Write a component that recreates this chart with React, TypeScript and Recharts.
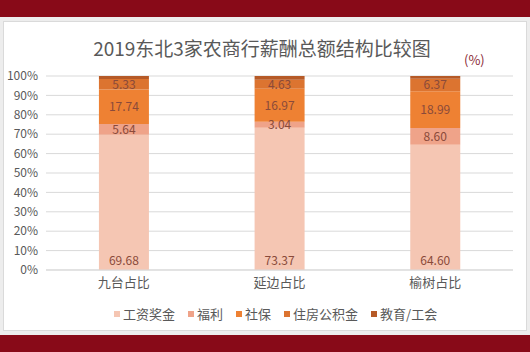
import React from "react";
import {
  Bar,
  BarChart,
  CartesianGrid,
  LabelList,
  XAxis,
  YAxis,
} from "recharts";

const categories = ["九台占比", "延边占比", "榆树占比"];
const salary = [69.68, 73.37, 64.6];
const welfare = [5.64, 3.04, 8.6];
const social = [17.74, 16.97, 18.99];
const housing = [5.33, 4.63, 6.37];
const education = [1.61, 1.99, 1.44];
const yTicks = [0, 10, 20, 30, 40, 50, 60, 70, 80, 90, 100];

const series = [
  { key: "salary", name: "工资奖金", color: "#F5C6B3", values: salary, pos: "insideBottom" },
  { key: "welfare", name: "福利", color: "#EFA389", values: welfare, pos: "center" },
  { key: "social", name: "社保", color: "#EE8133", values: social, pos: "center" },
  { key: "housing", name: "住房公积金", color: "#DC7430", values: housing, pos: "center" },
  { key: "education", name: "教育/工会", color: "#B65A27", values: education, pos: "" },
];

const data = categories.map((c, i) => {
  const row: { [k: string]: string | number } = { name: c };
  for (const s of series) row[s.key] = s.values[i];
  return row;
});

const FONT = '"Noto Sans CJK SC", "Noto Sans", sans-serif';
const RED = "#880A18";

function LegendBox() {
  return (
    <div
      style={{
        position: "absolute",
        left: 114,
        top: 304,
        display: "flex",
        gap: 13,
        fontFamily: FONT,
        fontSize: 13,
        color: "#595959",
        whiteSpace: "nowrap",
      }}
    >
      {series.map((s) => (
        <span key={s.key} style={{ display: "flex", alignItems: "center" }}>
          <span
            style={{
              width: 6,
              height: 6,
              background: s.color,
              display: "inline-block",
              marginRight: 3,
            }}
          />
          {s.name}
        </span>
      ))}
    </div>
  );
}

export default function App() {
  return (
    <div
      style={{
        position: "absolute",
        left: 0,
        top: 0,
        width: 530,
        height: 352,
        background: "#EDEDED",
        overflow: "hidden",
      }}
    >
      <div style={{ position: "absolute", left: 0, top: 0, width: 530, height: 17, background: RED }} />
      <div style={{ position: "absolute", left: 0, top: 335, width: 530, height: 17, background: RED }} />
      <div
        style={{
          position: "absolute",
          left: 3,
          top: 21,
          width: 522,
          height: 308,
          background: "#fff",
          border: "1px solid #DADADA",
        }}
      />
      <div
        style={{
          position: "absolute",
          left: 0,
          top: 34,
          width: 524,
          textAlign: "center",
          fontFamily: FONT,
          fontSize: 19,
          color: "#595959",
        }}
      >
        2019东北3家农商行薪酬总额结构比较图
      </div>
      <div
        style={{
          position: "absolute",
          left: 464,
          top: 50,
          fontFamily: FONT,
          fontSize: 13,
          color: "#8B2A35",
        }}
      >
        (%)
      </div>
      <div style={{ position: "absolute", left: 0, top: 0 }}>
        <BarChart
          width={530}
          height={352}
          data={data}
          margin={{ top: 76, right: 17, bottom: 52, left: 6 }}
          barCategoryGap="34%"
        >
          <CartesianGrid vertical={false} stroke="#D9D9D9" />
          <XAxis
            dataKey="name"
            tickLine={false}
            axisLine={{ stroke: "#D9D9D9" }}
            tick={{ fill: "#595959", fontSize: 13, fontFamily: FONT }}
            height={30}
          />
          <YAxis
            domain={[0, 100]}
            ticks={yTicks}
            interval={0}
            tickFormatter={(v) => `${v}%`}
            axisLine={false}
            tickLine={false}
            width={40}
            tick={{ fill: "#595959", fontSize: 12, fontFamily: FONT }}
          />
          {series.map((s) => (
            <Bar
              key={s.key}
              dataKey={s.key}
              name={s.name}
              stackId="a"
              fill={s.color}
              isAnimationActive={false}
            >
              {s.pos ? (
                <LabelList
                  dataKey={s.key}
                  position={s.pos as any}
                  formatter={(v: any) => Number(v).toFixed(2)}
                  fill="#8A4A3A"
                  fontSize={12}
                  fontFamily={FONT}
                />
              ) : null}
            </Bar>
          ))}
        </BarChart>
      </div>
      <LegendBox />
    </div>
  );
}
